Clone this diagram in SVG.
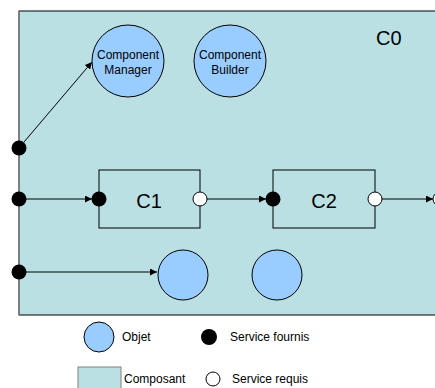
<svg xmlns="http://www.w3.org/2000/svg" width="435" height="388" viewBox="0 0 435 388">
<defs>
<style>
.t{font-family:"Liberation Sans",Arial,sans-serif;fill:#000}
.obj{fill:#99ccff;stroke:#000;stroke-width:1}
.comp{fill:#bbe0e3;stroke:#000;stroke-width:1}
.pv{fill:#000}
.rq{fill:#fff;stroke:#000;stroke-width:1}
.ln{stroke:#000;stroke-width:1;fill:none;marker-end:url(#ah)}
</style>
<marker id="ah" viewBox="0 0 10 10" refX="10" refY="5" markerWidth="7" markerHeight="7" markerUnits="userSpaceOnUse" orient="auto">
<path d="M0,0 L10,5 L0,10 z" fill="#000"/>
</marker>
</defs>
<g id="C0">
<rect x="19" y="11" width="430" height="304" fill="#bbe0e3" stroke="#000" stroke-width="1"/>
<line x1="19" y1="11" x2="19" y2="315" stroke="#808080" stroke-width="1.5"/>
<text class="t" x="376" y="45" font-size="20">C0</text>
</g>
<g id="connectors">
<line class="ln" x1="24" y1="142" x2="92" y2="62"/>
<line class="ln" x1="19" y1="199" x2="92" y2="199"/>
<line class="ln" x1="200" y1="199" x2="266" y2="199"/>
<line class="ln" x1="375" y1="199" x2="433" y2="199"/>
<line class="ln" x1="19" y1="272" x2="157" y2="272"/>
</g>
<g id="manager">
<circle class="obj" cx="128" cy="61" r="36"/>
<text class="t" x="128" y="59" font-size="12" text-anchor="middle">Component</text>
<text class="t" x="128" y="74" font-size="12" text-anchor="middle">Manager</text>
</g>
<g id="builder">
<circle class="obj" cx="230" cy="61" r="36"/>
<text class="t" x="230" y="59" font-size="12" text-anchor="middle">Component</text>
<text class="t" x="230" y="74" font-size="12" text-anchor="middle">Builder</text>
</g>
<g id="C1">
<rect class="comp" x="99" y="170" width="101" height="58"/>
<text class="t" x="149" y="208" font-size="20" text-anchor="middle">C1</text>
<circle class="pv" cx="99" cy="199" r="7.5"/>
<circle class="rq" cx="200" cy="199" r="7"/>
</g>
<g id="C2">
<rect class="comp" x="273" y="170" width="102" height="58"/>
<text class="t" x="324" y="208" font-size="20" text-anchor="middle">C2</text>
<circle class="pv" cx="273" cy="199" r="7.5"/>
<circle class="rq" cx="375" cy="199" r="7"/>
</g>
<g id="ports">
<circle class="pv" cx="19" cy="148" r="7.5"/>
<circle class="pv" cx="19" cy="199" r="7.5"/>
<circle class="pv" cx="19" cy="272" r="7.5"/>
<circle class="rq" cx="440" cy="199" r="7"/>
</g>
<g id="obj1"><circle class="obj" cx="183" cy="275" r="25"/></g>
<g id="obj2"><circle class="obj" cx="277" cy="275" r="25"/></g>
<g id="legend">
<circle class="obj" cx="99" cy="337" r="15"/>
<text class="t" x="122" y="341" font-size="12">Objet</text>
<circle class="pv" cx="209" cy="337" r="8"/>
<text class="t" x="230" y="341" font-size="12">Service fournis</text>
<rect x="78" y="367" width="43" height="30" fill="#bbe0e3" stroke="#808080" stroke-width="1"/>
<text class="t" x="124" y="383" font-size="12">Composant</text>
<circle class="rq" cx="213" cy="379" r="7"/>
<text class="t" x="232" y="383" font-size="12">Service requis</text>
</g>
</svg>
